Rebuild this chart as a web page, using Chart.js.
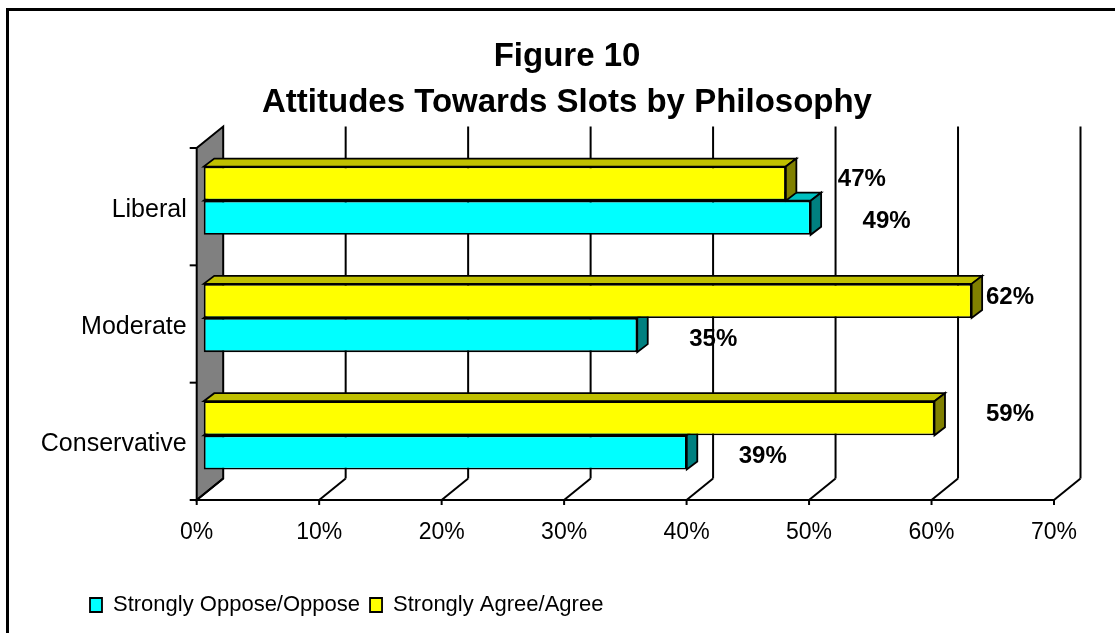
<!DOCTYPE html>
<html>
<head>
<meta charset="utf-8">
<title>Figure 10</title>
<script src="https://cdn.jsdelivr.net/npm/chart.js@4/dist/chart.umd.min.js"></script>
<style>
  html, body { margin: 0; padding: 0; background: #fff; }
  #wrap { width: 1115px; height: 633px; }
</style>
</head>
<body>
<div id="wrap"><canvas id="slotsChart"></canvas></div>
<script>
// survey results, percent of respondents
const philosophies = ["Liberal", "Moderate", "Conservative"];
const agreeValues = [47, 62, 59];
const opposeValues = [49, 35, 39];
const agreeName = "Strongly Agree/Agree";
const opposeName = "Strongly Oppose/Oppose";
const axisTicks = [0, 10, 20, 30, 40, 50, 60, 70];

const FONT = "Arial, 'Liberation Sans', sans-serif";

// fake 3-D: depth of the walls and of each bar, in pixels
const WALL = { dx: 26.5, dy: -21.5 };
const BAR = { dx: 10.5, dy: -8 };
const FRONT_DROP = 6; // front edge of the floor sits a little below the bars

function poly(ctx, pts, fill) {
    ctx.beginPath();
    ctx.moveTo(pts[0][0], pts[0][1]);
    for (let i = 1; i < pts.length; i++) ctx.lineTo(pts[i][0], pts[i][1]);
    ctx.closePath();
    if (fill) {
        ctx.fillStyle = fill;
        ctx.fill();
    }
    ctx.stroke();
}

function line(ctx, x1, y1, x2, y2) {
    ctx.beginPath();
    ctx.moveTo(x1, y1);
    ctx.lineTo(x2, y2);
    ctx.stroke();
}

const frame3d = {
    id: "frame3d",

    // category labels are wider than the axis box, so don't clip them
    afterLayout(chart) {
        chart.scales.y.left = 0;
    },

    beforeDraw(chart) {
        const { ctx, width, height } = chart;
        ctx.save();
        ctx.fillStyle = "#fff";
        ctx.fillRect(0, 0, width, height);
        ctx.strokeStyle = "#000";
        ctx.lineWidth = 3;
        ctx.strokeRect(7.5, 9.5, width + 20, height + 20);
        ctx.restore();
    },

    beforeDatasetsDraw(chart) {
        const { ctx, chartArea } = chart;
        const x = chart.scales.x;
        const L = x.getPixelForValue(axisTicks[0]);
        const R = x.getPixelForValue(axisTicks[axisTicks.length - 1]);
        const T = chartArea.top + FRONT_DROP;
        const B = chartArea.bottom + FRONT_DROP;

        ctx.save();
        ctx.strokeStyle = "#000";
        ctx.lineWidth = 2;

        // grey side wall
        poly(ctx, [[L, B], [L, T], [L + WALL.dx, T + WALL.dy], [L + WALL.dx, B + WALL.dy]], "#808080");

        // back wall gridlines + floor diagonals
        axisTicks.forEach((v, i) => {
            const px = x.getPixelForValue(v);
            if (i > 0) line(ctx, px + WALL.dx, B + WALL.dy, px + WALL.dx, T + WALL.dy);
            line(ctx, px, B, px + WALL.dx, B + WALL.dy);
            line(ctx, px, B, px, B + 5);
        });

        // front edge of the floor
        line(ctx, L, B, R, B);

        // category separators on the value axis
        const n = philosophies.length;
        for (let k = 0; k <= n; k++) {
            const py = T + (B - T) * k / n;
            line(ctx, L - 7, py, L, py);
        }

        // top and side faces of the bars, lower series first
        ctx.lineWidth = 1.8;
        [1, 0].forEach(di => {
            const ds = chart.data.datasets[di];
            chart.getDatasetMeta(di).data.forEach(el => {
                const top = el.y - el.height / 2;
                const bot = el.y + el.height / 2;
                poly(ctx, [[el.base, top], [el.x, top], [el.x + BAR.dx, top + BAR.dy], [el.base + BAR.dx, top + BAR.dy]], ds.topColor);
                poly(ctx, [[el.x, top], [el.x + BAR.dx, top + BAR.dy], [el.x + BAR.dx, bot + BAR.dy], [el.x, bot]], ds.sideColor);
            });
        });
        ctx.restore();
    },

    afterDatasetsDraw(chart) {
        const { ctx, chartArea } = chart;
        ctx.save();
        ctx.fillStyle = "#000";
        ctx.font = "bold 24px " + FONT;
        ctx.textAlign = "center";
        ctx.textBaseline = "middle";
        chart.data.datasets.forEach((ds, di) => {
            const shift = di === 0 ? -4 : 4;
            chart.getDatasetMeta(di).data.forEach((el, i) => {
                const lx = Math.min(el.x + 76, chartArea.right - 44);
                ctx.fillText(ds.data[i] + "%", lx, el.y + shift);
            });
        });
        ctx.restore();
    }
};

new Chart(document.getElementById("slotsChart"), {
    type: "bar",
    data: {
        labels: philosophies,
        datasets: [
            {
                label: agreeName,
                data: agreeValues,
                xAxisID: "xb",
                yAxisID: "y",
                backgroundColor: "#ffff00",
                topColor: "#c0c000",
                sideColor: "#808000",
                borderColor: "#000",
                borderWidth: 1.8,
                borderSkipped: false
            },
            {
                label: opposeName,
                data: opposeValues,
                xAxisID: "xb",
                yAxisID: "y",
                backgroundColor: "#00ffff",
                topColor: "#00c0c0",
                sideColor: "#008080",
                borderColor: "#000",
                borderWidth: 1.8,
                borderSkipped: false
            }
        ]
    },
    options: {
        indexAxis: "y",
        responsive: true,
        maintainAspectRatio: false,
        animation: false,
        categoryPercentage: 0.582,
        barPercentage: 1,
        layout: {
            padding: { left: 80, right: 61, top: 0, bottom: 7 }
        },
        plugins: {
            title: {
                display: true,
                text: ["Figure 10", "Attitudes Towards Slots by Philosophy"],
                color: "#000",
                font: { family: FONT, size: 33, weight: "bold", lineHeight: 1.394 },
                padding: { top: 34, bottom: 16 }
            },
            legend: {
                position: "bottom",
                align: "start",
                reverse: true,
                labels: {
                    color: "#000",
                    font: { family: FONT, size: 22 },
                    boxWidth: 12,
                    boxHeight: 14,
                    padding: 10
                }
            },
            tooltip: { enabled: false }
        },
        scales: {
            // visible percent axis along the front of the floor
            x: {
                type: "linear",
                position: "bottom",
                min: 0,
                max: 70,
                afterBuildTicks: s => {
                    s.ticks = axisTicks.map(v => ({ value: v }));
                },
                afterFit: s => {
                    s.height = 90;
                    s.paddingLeft = 0;
                    s.paddingRight = 0;
                },
                grid: { display: false, drawTicks: false },
                border: { display: false },
                ticks: {
                    padding: 25,
                    color: "#000",
                    font: { family: FONT, size: 23 },
                    callback: v => v + "%"
                }
            },
            // bars sit a bit deeper than the front edge
            xb: {
                type: "linear",
                axis: "x",
                position: "bottom",
                display: false,
                min: -0.57,
                max: 68.65
            },
            y: {
                type: "category",
                position: "left",
                offset: true,
                afterFit: s => {
                    s.width = 116.7;
                },
                grid: { display: false, drawTicks: false },
                border: { display: false },
                ticks: {
                    padding: 10,
                    labelOffset: 9,
                    color: "#000",
                    font: { family: FONT, size: 25 }
                }
            }
        }
    },
    plugins: [frame3d]
});
</script>
</body>
</html>
